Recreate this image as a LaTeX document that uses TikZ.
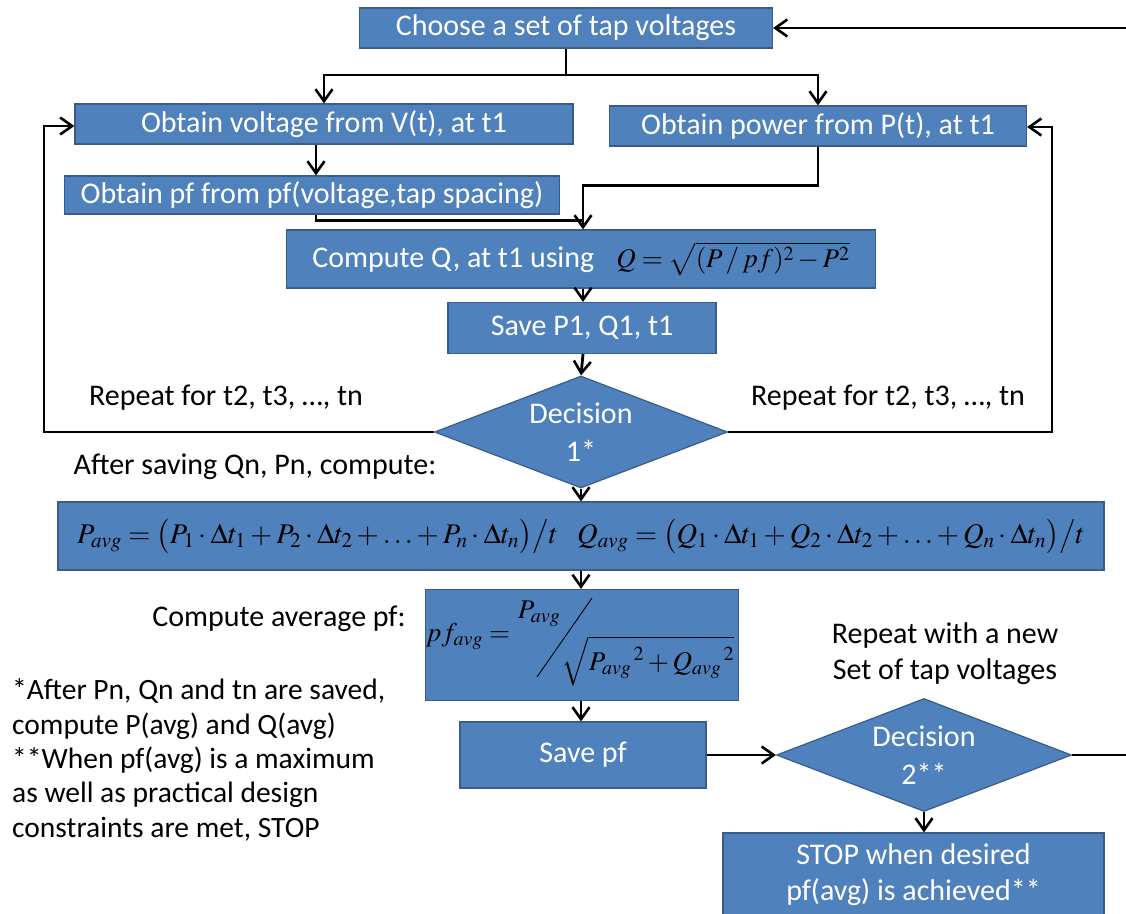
\documentclass[tikz,border=0pt]{standalone}
\usepackage{mathptmx}
\usepackage{fontspec}
\setmainfont{Carlito}
\usetikzlibrary{arrows.meta,shapes.geometric}
\definecolor{boxblue}{RGB}{79,129,189}
\definecolor{boxedge}{RGB}{56,93,138}
\tikzset{
  flowbox/.style={draw=boxedge, fill=boxblue, line width=1.2pt, text=white, inner sep=0pt, align=center,
    font=\fontsize{30}{36}\selectfont},
  decbox/.style={diamond, aspect=2.6, draw=boxedge, fill=boxblue, line width=1.2pt, text=white, inner sep=0pt, align=center,
    font=\fontsize{30}{38}\selectfont, minimum width=293pt, minimum height=112pt},
  plain/.style={inner sep=0pt, text=black, font=\fontsize{30}{36}\selectfont},
  conn/.style={line width=2.8pt, draw=black},
  arr/.style={conn, -{Straight Barb[length=12pt,width=17pt,line width=2.6pt]}},
  mathfont/.style={font=\fontsize{27}{32}\selectfont, text=black}
}
\begin{document}
\begin{tikzpicture}[x=1pt,y=-1pt]
\useasboundingbox (0,0) rectangle (1126,913);
\fill[white] (0,0) rectangle (1126,913);

% boxes
\node[flowbox, minimum width=413pt, minimum height=40pt] (choose) at (566,28) {Choose a set of tap voltages};
\node[flowbox, minimum width=498pt, minimum height=40pt] (vol) at (324,124) {Obtain voltage from V(t), at t1};
\node[flowbox, minimum width=417pt, minimum height=40pt] (pow) at (818,126) {Obtain power from P(t), at t1};
\node[flowbox, minimum width=495pt, minimum height=38pt] (pf) at (312,195) {Obtain pf from pf(voltage,tap spacing)};
\node[flowbox, minimum width=589pt, minimum height=58pt] (compQ) at (581,259)
  {Compute Q, at t1 using\hspace{22pt}{\color{black}\fontsize{27}{32}\selectfont$Q=\sqrt{(P\,/\,pf)^2-P^2}$}};
\node[flowbox, minimum width=268pt, minimum height=51pt] (save1) at (582,328) {Save P1, Q1, t1};
\node[decbox] (d1) at (581,432) {Decision\\1*};
\node[flowbox, minimum width=1046pt, minimum height=68pt] (pavg) at (581,536)
  {{\color{black}\fontsize{28.5}{32}\selectfont$P_{avg}=\bigl(P_1\cdot\Delta t_1+P_2\cdot\Delta t_2+\ldots+P_n\cdot\Delta t_n\bigr)\big/t\ \ \ Q_{avg}=\bigl(Q_1\cdot\Delta t_1+Q_2\cdot\Delta t_2+\ldots+Q_n\cdot\Delta t_n\bigr)\big/t$}};
\node[flowbox, minimum width=313pt, minimum height=111pt] (pfbox) at (582,645) {};
\node[flowbox, minimum width=246pt, minimum height=66pt] (savepf) at (583,755) {Save pf};
\node[decbox, minimum width=295pt, minimum height=113pt] (d2) at (924,755) {Decision\\2**};
\node[flowbox, minimum width=381pt, minimum height=84pt] (stop) at (913.5,875) {STOP when desired\\pf(avg) is achieved**};

% pf formula inside pfbox
\node[mathfont, inner sep=0pt] (pfl) at (468,636) {$pf_{avg}=$};
\node[mathfont, inner sep=0pt] (pfn) at (539,614) {$P_{avg}$};
\node[mathfont, inner sep=0pt] (pfd) at (648,661) {$\sqrt{{P_{avg}}^{\,2}+{Q_{avg}}^{\,2}}$};
\coordinate (sl1) at (537,677);
\coordinate (sl2) at (592,598);
\draw[black, line width=0.9pt] (sl1) -- (sl2);

% free labels
\node[plain] (rep1) at (226,398) {Repeat for t2, t3, \ldots, tn};
\node[plain] (rep2) at (888,398) {Repeat for t2, t3, \ldots, tn};
\node[plain] (after) at (255,467) {After saving Qn, Pn, compute:};
\node[plain] (cavg) at (279,619) {Compute average pf:};
\node[plain, align=center] (repnew) at (945,654) {Repeat with a new\\Set of tap voltages};
\node[plain, align=left, anchor=west, font=\fontsize{29.5}{34.3}\selectfont] (notes) at (12,760)
  {*After Pn, Qn and tn are saved,\\compute P(avg) and Q(avg)\\**When pf(avg) is a maximum\\as well as practical design\\constraints are met, STOP};

% connectors
\coordinate (split) at (566,75);
\draw[conn] (choose.south) -- (split);
\draw[arr] (split) -| (vol.north);
\draw[arr] (split) -| (pow.north);
\draw[arr] ([xshift=-8pt]vol.south) -- ([xshift=4pt]pf.north);
\draw[conn] ([xshift=4pt]pf.south) |- ([xshift=2pt,yshift=9pt]compQ.north);
\draw[arr] (pow.south) -- ++(0,39) -| ([xshift=2pt]compQ.north);
\draw[arr] ([xshift=2pt]compQ.south) -- ([xshift=1pt]save1.north);
\draw[arr] ([xshift=1pt]save1.south) -- (d1.north);
\coordinate (lloop) at (44,432);
\coordinate (rloop) at (1052,432);
\draw[arr] (d1.west) -- (lloop) |- ([yshift=-2pt]vol.west);
\draw[arr] (d1.east) -- (rloop) |- ([yshift=-1pt]pow.east);
\draw[arr] (d1.south) -- (pavg.north);
\draw[arr] (pavg.south) -- ([xshift=-1pt]pfbox.north);
\draw[arr] ([xshift=-1pt]pfbox.south) -- ([xshift=-2pt]savepf.north);
\draw[arr] (savepf.east) -- (d2.west);
\draw[arr] (d2.south) -- (d2.south |- stop.north);
\coordinate (rightout) at (1126,755);
\coordinate (rightin) at (1126,28);
\draw[conn] (d2.east) -- (rightout);
\draw[arr] (rightin) -- (choose.east);
\end{tikzpicture}
\end{document}
